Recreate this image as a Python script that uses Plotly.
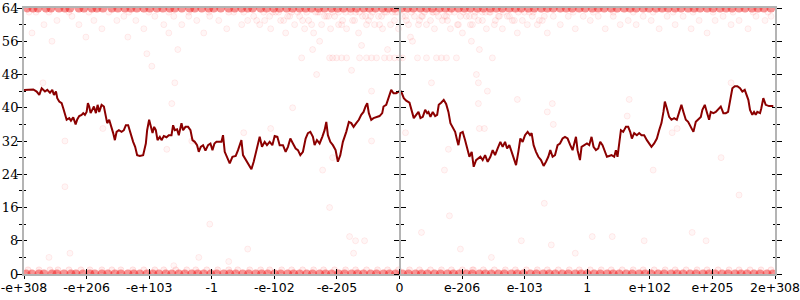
import plotly.graph_objects as go

# ---------------- data ----------------
x_tick_labels = ["-e+308", "-e+206", "-e+103", "-1", "-e-102", "-e-205", "0",
                 "e-206", "e-103", "1", "e+102", "e+205", "2e+308"]
X_SPAN = 752  # position scale of the custom x axis (0 .. X_SPAN)
y_tick_values = [0, 8, 16, 24, 32, 40, 48, 56, 64]

# moving-average line
line_x = [0, 9.3, 12.7, 15.3, 17.7, 21, 23.3, 26, 28.3, 30, 32, 33.3, 35.3, 37.7, 39.3, 41.7, 42.7, 45.3, 47, 49.3,
          51.7, 53.3, 55.3, 57.7, 59.3, 61, 62.7, 64, 65.3, 66.7, 68.7, 70, 72, 73.7, 75.3, 77.7, 80, 82, 83.3, 85.3,
          87.7, 89.3, 91, 92.7, 95, 97.7, 100, 102, 104.3, 106, 107.7, 109.3, 111.3, 113.3, 116, 119.3, 122, 123.3, 125.3, 127,
          128.7, 130.3, 132, 133.7, 136, 137.7, 140, 142.7, 145, 147.7, 149.3, 151, 153.3, 155, 157.7, 159.3, 161.7, 164.3, 166.7, 168.7,
          171, 173.3, 175, 177, 179.3, 181.7, 184.3, 186.7, 188.7, 190.7, 192.7, 197.7, 199.3, 201, 204.3, 206, 208.7, 212, 214.3, 217.7,
          219.3, 222, 224.3, 227.7, 230, 232.7, 236, 238.3, 241, 243.3, 246, 248.7, 251, 253.7, 256, 259.3, 262, 264.3, 266.7, 269.3,
          272, 274.3, 276.7, 279.3, 282, 284.3, 286.7, 289.3, 291, 293.3, 296, 298.7, 301, 302.7, 304.3, 306.7, 309.3, 312, 314.3, 316.7,
          319.3, 322.7, 325.3, 327.7, 330, 332.7, 335.3, 337.7, 340, 342, 343.7, 345.3, 347.7, 350, 352.7, 356, 358.7, 360, 362.7, 364.3,
          366, 367.7, 370, 372.7, 375.3, 377.7, 380.3, 382.7, 386, 388.3, 390.3, 392.7, 395, 397, 399.3, 401.7, 403.7, 405, 407, 409.3,
          411.7, 413.7, 415.3, 417.7, 420.3, 422.7, 425, 427, 429.3, 431.7, 433.7, 435, 437, 439.3, 441.7, 443.7, 446, 448.3, 450.3, 452.7,
          455, 457, 459.3, 461.7, 464.3, 467, 469.3, 471.7, 474.3, 477, 479.3, 481.7, 483.7, 486, 488.3, 491, 492.7, 495, 497, 499.3,
          501.7, 504.3, 506.7, 508.3, 510.3, 512.7, 515, 517.7, 520.3, 522.7, 525, 527, 529.3, 531.7, 534.3, 536.7, 539.3, 541.7, 544.3, 547,
          549.3, 551, 552.7, 554.3, 556.7, 558.3, 561, 563.7, 566, 568.3, 570.3, 572.7, 575, 577, 579.3, 581.7, 583.7, 586, 588.3, 591,
          592.7, 594.3, 596, 597.7, 600, 602.7, 605, 607, 608.7, 611, 613.7, 616, 618.3, 621, 623.7, 626, 628.3, 631, 633.7, 636,
          638.3, 640.3, 641.7, 643.7, 646, 648.3, 651, 653.7, 656, 658.3, 660.3, 662.7, 665, 667.7, 670.3, 672.7, 675, 677.7, 679.3, 681.7,
          683.7, 686, 687.7, 690.3, 692.7, 695, 697.7, 700.3, 702.7, 705, 707, 709.3, 711.7, 714.3, 717, 719.3, 721.7, 723.7, 725.3, 727,
          729.3, 731, 732.7, 734.3, 737, 738.3, 740.3, 742.7, 746, 750.3]
line_y = [44.3, 44.4, 43.9, 43.1, 44.7, 43.9, 44.3, 43.6, 44.3, 43.1, 43.9, 42.3, 41.5, 41.1, 39.9, 37.8, 37.1, 37.5, 36.9, 37.7,
          36.0, 37.2, 38.0, 38.3, 38.7, 38.3, 39.0, 41.1, 40.3, 38.7, 39.9, 40.3, 38.7, 40.7, 39.0, 40.7, 40.3, 38.3, 36.3, 37.1,
          35.4, 33.9, 32.2, 34.2, 34.6, 34.2, 34.6, 35.8, 35.8, 34.2, 32.6, 31.8, 30.6, 28.6, 28.4, 28.6, 31.4, 34.6, 37.1, 35.8,
          33.9, 35.4, 34.6, 32.2, 33.0, 32.2, 33.2, 32.9, 33.4, 33.4, 35.8, 34.6, 34.8, 33.4, 36.3, 34.6, 35.4, 35.4, 34.6, 32.2,
          31.8, 31.0, 29.4, 30.6, 31.0, 29.7, 31.0, 31.4, 29.8, 31.4, 31.8, 31.8, 33.4, 29.4, 27.8, 26.6, 28.2, 28.4, 29.8, 32.2,
          28.6, 27.4, 26.6, 25.2, 27.0, 29.4, 33.0, 30.6, 31.8, 31.0, 31.8, 31.0, 33.2, 33.0, 31.0, 31.0, 29.4, 30.6, 32.6, 31.4,
          30.2, 29.8, 28.6, 29.4, 32.6, 33.9, 34.2, 33.0, 31.0, 32.2, 31.4, 33.0, 34.6, 36.6, 33.4, 31.8, 31.0, 29.8, 27.0, 28.6,
          31.8, 34.2, 36.6, 36.3, 35.4, 36.3, 37.1, 38.3, 39.0, 40.3, 41.1, 38.7, 37.1, 37.5, 37.7, 38.0, 38.7, 40.3, 40.7, 41.9,
          42.7, 44.3, 43.5, 43.5, 43.9, 43.9, 42.3, 41.7, 41.2, 39.5, 37.5, 38.3, 39.0, 37.5, 37.8, 39.5, 38.7, 39.0, 37.8, 39.0,
          38.0, 38.3, 40.7, 41.2, 41.9, 40.9, 39.0, 36.3, 35.1, 34.2, 32.2, 31.0, 33.9, 34.2, 32.2, 30.2, 28.2, 29.4, 25.8, 27.4,
          27.8, 28.2, 27.4, 28.6, 27.0, 28.2, 29.8, 28.6, 30.2, 31.8, 30.6, 31.8, 30.2, 31.0, 29.4, 27.4, 26.2, 29.4, 32.6, 31.8,
          33.4, 34.2, 33.4, 33.9, 31.0, 29.4, 28.2, 27.4, 26.0, 27.0, 28.2, 29.8, 28.2, 28.6, 31.0, 31.4, 32.6, 33.0, 32.6, 31.0,
          29.8, 31.4, 33.0, 29.8, 27.4, 30.6, 31.0, 31.4, 31.0, 33.0, 30.6, 29.8, 30.2, 31.8, 31.0, 29.4, 28.2, 28.4, 28.6, 28.2,
          29.8, 28.2, 31.0, 34.6, 34.2, 35.4, 35.4, 34.2, 32.6, 33.9, 33.4, 33.9, 33.4, 33.4, 32.2, 31.4, 30.6, 31.4, 32.6, 34.6,
          36.3, 39.0, 41.5, 39.9, 37.8, 37.1, 37.5, 37.1, 38.7, 40.7, 39.0, 37.1, 36.6, 35.4, 34.2, 36.6, 37.2, 37.8, 39.5, 40.7,
          39.0, 37.1, 39.0, 38.7, 39.0, 39.5, 40.3, 38.7, 38.7, 39.0, 41.9, 44.7, 45.2, 45.2, 44.7, 43.9, 44.3, 43.1, 41.9, 39.5,
          38.3, 39.0, 38.3, 39.0, 38.7, 39.9, 42.3, 40.7, 40.4, 40.4]

# individual samples (sparse)
pts_x = [20, 33, 48, 55, 70, 78, 93, 100, 112, 120, 131, 140, 150, 158, 165, 173, 180, 186, 195, 203, 210, 218, 224, 12, 62, 104, 145,
         230, 236, 241, 247, 252, 257, 262, 266, 271, 276, 281, 285, 290, 294, 298, 303, 307, 311, 315, 319, 323, 327, 331, 335,
         339, 343, 347, 351, 355, 359, 363, 367, 371, 375, 379, 383, 387, 391, 395, 399, 403, 407, 411, 415, 419, 423, 427, 431,
         435, 439, 443, 447, 451, 455, 459, 463, 467, 471, 475, 479, 484, 489, 494, 499, 504, 509, 514, 519, 524,
         240, 255, 268, 283, 296, 309, 322, 336, 349, 361, 374, 388, 401, 413, 426, 440, 452, 466, 480, 495, 510,
         246, 260, 274, 288, 301, 315, 329, 342, 356, 369, 382, 396, 409, 421, 434, 446, 459, 472, 486, 501, 516,
         233, 249, 264, 279, 292, 305, 318, 332, 345, 358, 372, 385, 398, 410, 424, 437, 449, 462, 476, 491, 506, 521,
         530, 537, 545, 552, 560, 567, 575, 582, 590, 597, 605, 613, 620, 628, 636, 644, 652, 660, 668, 676, 684, 692, 700, 708,
         716, 725, 733, 742, 748,
         5, 25, 45, 65, 85, 105, 125, 145, 165, 185, 205, 220, 550, 570, 590, 610, 630, 650, 670, 690, 710, 730, 745,
         19, 151, 148, 269, 348, 41, 79, 143, 168, 220, 247, 299, 348, 309, 408, 455, 464, 455, 494, 529, 524, 530, 456, 461,
         382, 425, 421, 606, 604, 649, 654, 698, 630, 41, 306, 521, 426, 186, 716, 28, 128, 123, 154, 8,
         278, 306, 309, 313, 318, 323, 336, 343, 348, 353, 361, 366, 371, 376, 379, 394, 403, 413, 418, 423, 433, 469,
         289, 328, 293, 456, 453, 338, 389, 448, 296, 364, 708,
         25, 46, 175, 205, 224, 150, 326, 332, 341, 330, 398, 437, 468, 498, 449, 528, 569, 589, 621, 552, 669, 683]
pts_y = [60, 61, 62, 60, 61, 59, 61, 62, 61, 59, 62, 60, 62, 60, 62, 61, 58, 62, 61, 59, 63, 60, 61, 63, 57, 57, 58,
         62, 60, 61, 59, 63, 61, 58, 62, 60, 62, 59, 61, 58, 63, 60, 62, 59, 62, 60, 61, 59, 63, 61, 58,
         62, 60, 62, 60, 62, 59, 63, 60, 61, 59, 62, 61, 57, 62, 60, 62, 60, 61, 59, 62, 61, 62, 59, 63,
         60, 58, 62, 60, 62, 61, 61, 59, 63, 60, 62, 59, 62, 61, 58, 61, 60, 62, 60, 61, 58,
         63, 63, 63, 63, 63, 63, 63, 63, 63, 63, 63, 63, 63, 63, 63, 63, 63, 63, 63, 63, 63,
         62, 61, 63, 60, 62, 63, 61, 62, 60, 63, 62, 61, 63, 62, 60, 62, 63, 61, 62, 63, 61,
         61, 63, 62, 61, 63, 62, 60, 63, 61, 62, 63, 60, 62, 63, 61, 62, 60, 63, 62, 61, 63, 62,
         62, 60, 62, 59, 62, 61, 62, 59, 62, 60, 61, 60, 62, 61, 59, 62, 60, 62, 59, 61, 58, 61, 62, 60,
         61, 59, 62, 61, 62,
         63, 63, 63, 63, 63, 63, 63, 63, 63, 63, 63, 63, 63, 63, 63, 63, 63, 63, 63, 63, 63, 63, 63,
         46, 46, 41, 40, 44, 32, 35, 30, 32, 34, 35, 25, 32, 28, 46, 46, 44, 41, 42, 41, 39, 36, 35, 35,
         34, 30, 25, 42, 38, 34, 35, 28, 25, 21, 16, 17, 14, 12, 19, 56, 50, 53, 54, 58,
         52, 52, 52, 52, 52, 52, 52, 52, 52, 52, 52, 52, 52, 52, 52, 52, 52, 52, 52, 52, 52, 52,
         54, 49, 48, 54, 48, 55, 56, 56, 56, 54, 46,
         4, 5, 4, 3, 6, 2, 9, 8, 8, 5, 10, 6, 4, 8, 1, 7, 9, 9, 8, 5, 10, 8]

# dense bands of samples at the extremes
TOP_VALUE = 64
top_band_x = [3, 9, 14, 22, 27, 35, 41, 46, 55, 60, 68, 73, 79, 88, 94, 101, 107, 113, 120, 126, 133, 139, 146, 151,
              158, 166, 171, 178, 185, 190, 197, 205, 211, 218, 224, 229, 237, 243, 250, 256, 263, 269, 276, 282,
              288, 295, 301, 308, 314, 320, 327, 333, 340, 346, 352, 359, 365, 371, 378, 384, 390, 397, 403, 409,
              416, 422, 428, 435, 441, 447, 454, 460, 467, 473, 479, 486, 492, 498, 505, 511, 518, 524, 530, 537,
              543, 549, 556, 562, 569, 575, 581, 588, 594, 601, 607, 613, 620, 626, 633, 639, 645, 652, 658, 665,
              671, 677, 684, 690, 697, 703, 709, 716, 722, 729, 735, 741, 748]
BOTTOM_VALUE = 0
bottom_band_x = [2, 8, 15, 20, 28, 33, 40, 47, 52, 59, 66, 71, 78, 84, 91, 97, 104, 110, 116, 123, 129, 135, 142, 148,
                 155, 161, 168, 174, 180, 187, 193, 200, 206, 212, 219, 225, 232, 238, 244, 251, 257, 264, 270, 276,
                 283, 289, 296, 302, 308, 315, 321, 328, 334, 340, 347, 353, 360, 366, 372, 379, 385, 392, 398, 404,
                 411, 417, 424, 430, 436, 443, 449, 456, 462, 468, 475, 481, 488, 494, 500, 507, 513, 520, 526, 532,
                 539, 545, 552, 558, 564, 571, 577, 584, 590, 596, 603, 609, 616, 622, 628, 635, 641, 648, 654, 660,
                 667, 673, 680, 686, 692, 699, 705, 712, 718, 724, 731, 737, 744, 750]
NEAR_BOTTOM_VALUE = 1
near_bottom_x = [4, 15, 26, 34, 45, 57, 66, 78, 88, 97, 109, 120, 131, 140, 152, 163, 172, 183, 194, 205, 214, 226,
                 237, 246, 258, 268, 279, 290, 300, 311, 322, 332, 343, 354, 364, 375, 386, 396, 407, 418, 428, 439,
                 450, 460, 471, 482, 492, 503, 514, 524, 535, 546, 556, 567, 578, 588, 599, 610, 620, 631, 642, 652,
                 663, 674, 684, 695, 706, 716, 727, 738, 748]

# ---------------- figure ----------------
fig = go.Figure()

fig.add_trace(go.Scatter(x=pts_x, y=pts_y, mode="markers", cliponaxis=True,
                         marker=dict(size=6, color="rgba(255,0,0,0.035)",
                                     line=dict(width=1, color="rgba(255,0,0,0.07)")),
                         hoverinfo="skip"))
fig.add_trace(go.Scatter(x=near_bottom_x, y=[NEAR_BOTTOM_VALUE] * len(near_bottom_x), mode="markers",
                         marker=dict(size=6, color="rgba(255,0,0,0.07)",
                                     line=dict(width=1, color="rgba(255,0,0,0.09)")),
                         hoverinfo="skip"))
fig.add_trace(go.Scatter(x=top_band_x, y=[TOP_VALUE] * len(top_band_x), mode="markers",
                         marker=dict(size=9, color="rgba(235,0,0,0.42)", line=dict(width=0)),
                         hoverinfo="skip"))
fig.add_trace(go.Scatter(x=bottom_band_x, y=[BOTTOM_VALUE] * len(bottom_band_x), mode="markers",
                         marker=dict(size=9, color="rgba(235,0,0,0.42)", line=dict(width=0)),
                         hoverinfo="skip"))
fig.add_trace(go.Scatter(x=line_x, y=line_y, mode="lines",
                         line=dict(color="#8b0000", width=2), hoverinfo="skip"))

# empty traces so that the overlay axes (for crossing ticks) are drawn
for xa, ya in [("x2", "y"), ("x", "y2"), ("x", "y3"), ("x", "y4")]:
    fig.add_trace(go.Scatter(x=[], y=[], xaxis=xa, yaxis=ya, hoverinfo="skip"))

tick_pos = [i * X_SPAN / (len(x_tick_labels) - 1) for i in range(len(x_tick_labels))]
AX = "#b4b4b4"
common_y = dict(range=[0, 64], tickvals=y_tick_values, showgrid=False, zeroline=False,
                tickcolor="black", tickwidth=1, fixedrange=True, automargin=False)

fig.update_layout(
    width=800, height=300,
    margin=dict(l=24, r=25, t=8, b=26, autoexpand=False),
    paper_bgcolor="white", plot_bgcolor="white",
    showlegend=False,
    xaxis=dict(range=[0, X_SPAN], tickvals=tick_pos, ticktext=x_tick_labels, automargin=False,
               ticklabeloverflow="allow", ticklabelstandoff=-2,
               ticks="outside", ticklen=3, tickcolor="black", tickwidth=1,
               showline=True, linecolor=AX, linewidth=2, mirror=True,
               showgrid=False, zeroline=False,
               tickfont=dict(family="DejaVu Sans", size=12.5, color="black")),
    xaxis2=dict(range=[0, X_SPAN], tickvals=tick_pos, overlaying="x", side="bottom", anchor="y",
                automargin=False,
                ticks="inside", ticklen=5, tickcolor="black", tickwidth=1,
                showticklabels=False, showline=False, showgrid=False, zeroline=False),
    yaxis=dict(**common_y, ticks="outside", ticklen=5, showline=True, linecolor=AX, linewidth=2,
               mirror="ticks", showticklabels=True, ticklabeloverflow="allow", ticklabelstandoff=-4,
               minor=dict(dtick=4, ticks="outside", ticklen=3, tickcolor="black", tickwidth=1, showgrid=False),
               tickfont=dict(family="DejaVu Serif", size=13, color="black")),
    yaxis2=dict(**common_y, overlaying="y", side="left", ticks="inside", ticklen=3,
                showline=True, linecolor=AX, linewidth=2, mirror="ticks", showticklabels=False,
                minor=dict(dtick=4, ticks="inside", ticklen=2, tickcolor="black", tickwidth=1, showgrid=False)),
    yaxis3=dict(**common_y, overlaying="y", anchor="free", position=0.5, side="left",
                ticks="outside", ticklen=5, showline=True, linecolor=AX, linewidth=2, showticklabels=False,
                minor=dict(dtick=4, ticks="outside", ticklen=3, tickcolor="black", tickwidth=1, showgrid=False)),
    yaxis4=dict(**common_y, overlaying="y", anchor="free", position=0.5, side="left",
                ticks="inside", ticklen=5, showline=True, linecolor=AX, linewidth=2, showticklabels=False,
                minor=dict(dtick=4, ticks="inside", ticklen=3, tickcolor="black", tickwidth=1, showgrid=False)),
)

fig.write_html("out.html")
